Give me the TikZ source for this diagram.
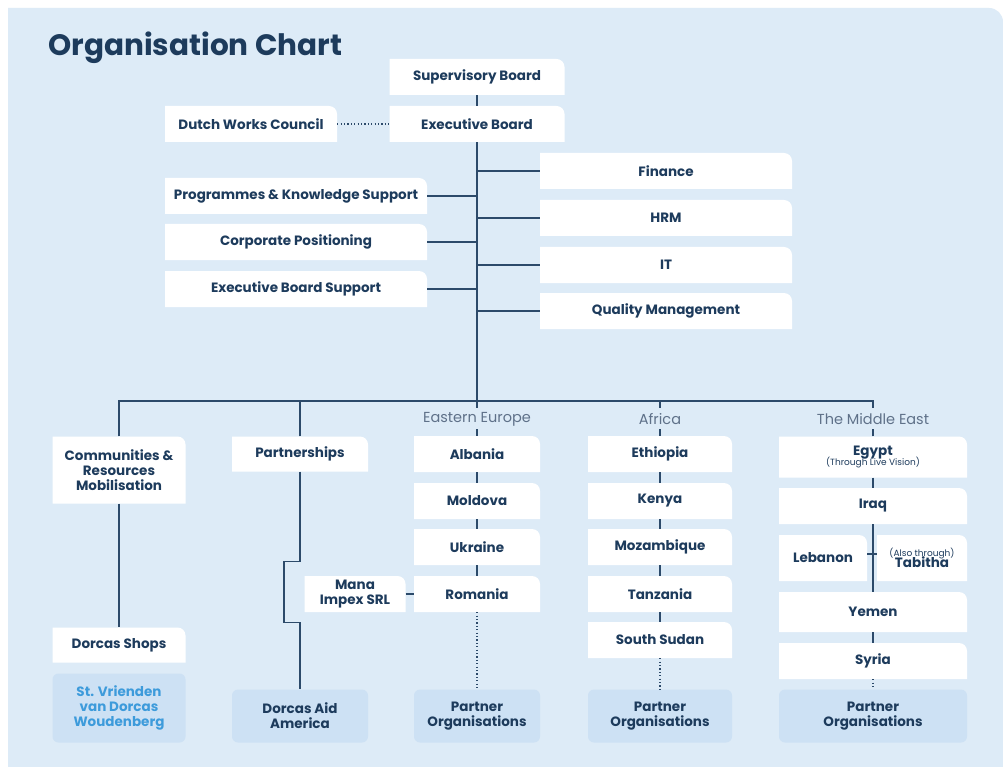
\documentclass[tikz,border=0pt]{standalone}
\usepackage{fontspec}
\setmainfont{Poppins}
\definecolor{bgblue}{HTML}{DDEBF7}
\definecolor{navy}{HTML}{1D3B5C}
\definecolor{linecol}{HTML}{2C4A6A}
\definecolor{partnerfill}{HTML}{CDE1F4}
\definecolor{vriendtext}{HTML}{3D9BDB}
\definecolor{regiontext}{HTML}{5F7189}
\newcommand\notefont{\mdseries\fontsize{9}{9}\selectfont}
\tikzset{
  box/.style={inner sep=0pt, align=center, text=navy, fill=bgblue,
    font=\bfseries\fontsize{13.5}{15}\selectfont,
    path picture={\fill[white] (path picture bounding box.south west) -- (path picture bounding box.north west)
      -- ([xshift=-8pt]path picture bounding box.north east) arc[start angle=90, end angle=0, radius=8pt]
      -- (path picture bounding box.south east) -- cycle;}},
  partnerbox/.style={inner sep=0pt, align=center, text=navy, fill=partnerfill, rounded corners=6pt,
    font=\bfseries\fontsize{13.5}{15}\selectfont},
  eebox/.style={box, minimum width=126, minimum height=36},
  afbox/.style={box, minimum width=144, minimum height=36},
  mebox/.style={box, minimum width=188, minimum height=36},
  conn/.style={draw=linecol, line width=1.5pt},
  dotconn/.style={draw=linecol, line width=1.3pt, dash pattern=on 1.2pt off 2.2pt},
  region/.style={text=regiontext, font=\fontsize{14.5}{15}\selectfont}
}
\begin{document}
\begin{tikzpicture}[x=1pt, y=1pt]
\useasboundingbox (0,0) rectangle (1003,-767);
% background panel
\fill[white] (0,0) rectangle (1003,-767);
\fill[bgblue] (8,-767) -- (8,-8) -- (989,-8) arc[start angle=90, end angle=0, radius=14] -- (1003,-767) -- cycle;
\node[anchor=base west, text=navy, font=\bfseries\fontsize{29.5}{32}\selectfont] (title) at (45,-56) {Organisation Chart};

% boards
\node[box, minimum width=175, minimum height=36] (sup) at (477,-77) {Supervisory Board};
\node[box, minimum width=175, minimum height=36] (exec) at (477,-124) {Executive Board};
\node[box, minimum width=172, minimum height=36] (dwc) at (251,-124) {Dutch Works Council};
\draw[conn] (sup.south) -- (exec.north);
\draw[dotconn] (dwc.east) -- (exec.west);
\coordinate (hub) at (477,-408);
\draw[conn] (exec.south) -- (hub);

% staff departments
\node[box, minimum width=252, minimum height=36] (fin) at (666,-171) {Finance};
\node[box, minimum width=252, minimum height=36] (hrm) at (666,-218) {HRM};
\node[box, minimum width=252, minimum height=36] (it) at (666,-265) {IT};
\node[box, minimum width=252, minimum height=36] (qm) at (666,-311) {Quality Management};
\node[box, minimum width=262, minimum height=36] (pks) at (296,-196) {Programmes \& Knowledge Support};
\node[box, minimum width=262, minimum height=36] (cp) at (296,-242) {Corporate Positioning};
\node[box, minimum width=262, minimum height=36] (ebs) at (296,-289) {Executive Board Support};
\foreach \n in {fin, hrm, it, qm}
  \draw[conn] (\n.west) -- (\n.west -| hub);
\foreach \n in {pks, cp, ebs}
  \draw[conn] (\n.east) -- (\n.east -| hub);

% left columns
\node[box, minimum width=133, minimum height=67] (comm) at (119,-470) {Communities \&\\Resources\\Mobilisation};
\node[box, minimum width=133, minimum height=35] (shops) at (119,-645) {Dorcas Shops};
\node[partnerbox, text=vriendtext, minimum width=133, minimum height=69] (stv) at (119,-708) {St. Vrienden\\van Dorcas\\Woudenberg};
\node[box, minimum width=136, minimum height=35] (partn) at (300,-454) {Partnerships};
\node[partnerbox, minimum width=136, minimum height=53] (daa) at (300,-716) {Dorcas Aid\\America};
\node[box, minimum width=101, minimum height=36] (mana) at (355,-594) {Mana\\Impex SRL};

% Eastern Europe
\node[region] (eelab) at (477,-419) {Eastern Europe};
\node[eebox] (alb) at (477,-454) {Albania};
\node[eebox] (mol) at (477,-501) {Moldova};
\node[eebox] (ukr) at (477,-547) {Ukraine};
\node[eebox] (rom) at (477,-594) {Romania};
\node[partnerbox, minimum width=126, minimum height=53] (eepart) at (477,-716) {Partner\\Organisations};

% Africa
\node[region] (aflab) at (660,-419) {Africa};
\node[afbox] (eth) at (660,-454) {Ethiopia};
\node[afbox] (ken) at (660,-501) {Kenya};
\node[afbox] (moz) at (660,-547) {Mozambique};
\node[afbox] (tan) at (660,-594) {Tanzania};
\node[afbox] (ssd) at (660,-640) {South Sudan};
\node[partnerbox, minimum width=144, minimum height=53] (afpart) at (660,-716) {Partner\\Organisations};

% The Middle East
\node[region] (melab) at (873,-419) {The Middle East};
\node[mebox, minimum height=41] (egy) at (873,-457) {Egypt\\[-5pt]{\notefont (Through Live Vision)}};
\node[mebox] (irq) at (873,-506) {Iraq};
\node[box, minimum width=88, minimum height=46] (leb) at (823,-558) {Lebanon};
\node[box, minimum width=90, minimum height=46] (tab) at (922,-558) {{\notefont (Also through)}\\[-4pt]Tabitha};
\node[mebox, minimum height=40] (yem) at (873,-612) {Yemen};
\node[mebox] (syr) at (873,-661) {Syria};
\node[partnerbox, minimum width=188, minimum height=53] (mepart) at (873,-716) {Partner\\Organisations};

% bus and column links
\coordinate (busL) at (119,-401);
\coordinate (busR) at (873,-401);
\draw[conn] (comm.north) -- (comm.north |- busL) -- (busR) -- ++(0,-7);
\draw[conn] (partn.north) -- (partn.north |- busL);
\draw[conn] (eth.north |- busL) -- ++(0,-7);
\draw[conn] (comm.south) -- (shops.north);
\draw[conn] (partn.south) -- ++(0,-90) -- ++(-16,0) -- ++(0,-61) -- ++(16,0) -- (daa.north);
\foreach \n in {alb, eth, egy}
  \draw[conn] (\n.north) -- ++(0,7);
\foreach \a/\b in {alb/mol, mol/ukr, ukr/rom, eth/ken, ken/moz, moz/tan, tan/ssd, egy/irq, irq/yem, yem/syr}
  \draw[conn] (\a.south) -- (\b.north);
\foreach \a/\b in {rom/eepart, ssd/afpart, syr/mepart}
  \draw[dotconn] (\a.south) -- (\b.north);
\draw[conn] (mana.east) -- (rom.west);
\draw[conn] ([yshift=4pt]leb.east) -- ([yshift=4pt]tab.west);
\end{tikzpicture}
\end{document}
